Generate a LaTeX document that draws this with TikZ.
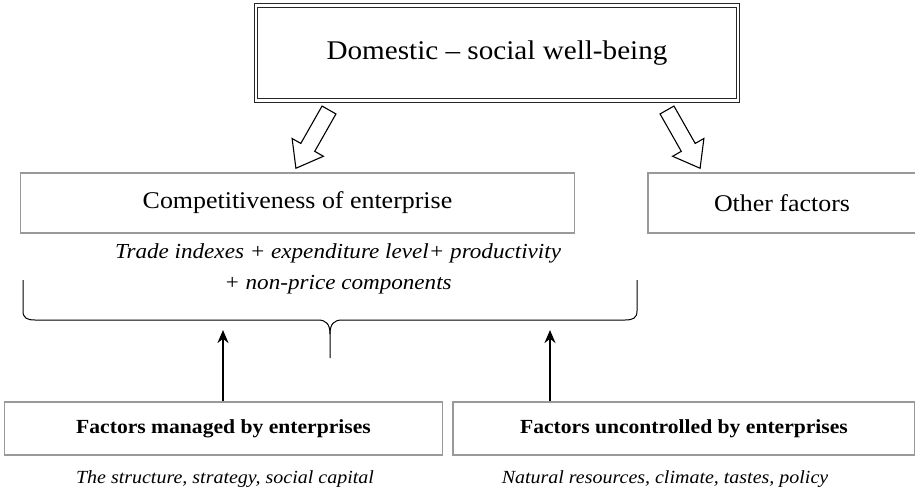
\documentclass[tikz,border=0pt]{standalone}
\usepackage{fontspec}
\setmainfont{Liberation Serif}[FakeStretch=1.08]
\usetikzlibrary{arrows.meta,positioning}

\tikzset{
  box/.style={draw=black!40, line width=1.2pt, inner sep=0pt},
  hollow/.style={draw=black, line width=1.1pt, fill=white, line join=miter},
  up/.style={line width=2.4pt, -{Stealth[length=13pt,width=11pt]}}
}

\begin{document}
\begin{tikzpicture}[x=1pt,y=-1pt]
    \useasboundingbox (0,0) rectangle (915,496);

    % Top box
    \node[draw=black!85, double=white, double distance=2.2pt, line width=1.2pt,
      minimum width=482pt, minimum height=95pt,
      font=\fontsize{27}{32}\selectfont] (wellbeing) at (497,53) {Domestic -- social well-being};

    % Middle boxes
    \node[box, minimum width=554pt, minimum height=60pt,
      font=\fontsize{24}{28}\selectfont] (compet) at (297.5,203) {Competitiveness of enterprise};
    \node[box, minimum width=268pt, minimum height=60pt,
      font=\fontsize{24}{28}\selectfont] (other) at (782,203) {Other factors};
    \node[font=\itshape\fontsize{21.4}{31}\selectfont, align=center] (indexes) at (338,269)
      {Trade indexes + expenditure level+ productivity\\+ non-price components};

    % Hollow arrows
    \foreach \x/\ang in {329/-119.6, 667/-60.4} {
      \begin{scope}[shift={(\x,110)}, rotate=\ang]
        \draw[hollow] (0,-8) -- (43,-8) -- (43,-18) -- (67,0) -- (43,18) -- (43,8) -- (0,8) -- cycle;
      \end{scope}
    }

    % Brace
    \coordinate (tipL) at (223,330);
    \coordinate (tipR) at (550,330);
    \draw[line width=1pt] (23,280) -- (23,311) .. controls (23,318) and (27,320) .. (35,320)
      -- (318,320) .. controls (326,320) and (330,324) .. (330,334) -- (330,358);
    \draw[line width=1pt] (637,280) -- (637,311) .. controls (637,318) and (633,320) .. (625,320)
      -- (342,320) .. controls (334,320) and (330,324) .. (330,334);

    % Bottom boxes
    \node[box, minimum width=438pt, minimum height=53pt,
      font=\bfseries\fontsize{20}{24}\selectfont] (managed) at (223.5,428.5) {Factors managed by enterprises};
    \node[box, minimum width=462pt, minimum height=53pt,
      font=\bfseries\fontsize{20}{24}\selectfont] (uncontrolled) at (684,428.5) {Factors uncontrolled by enterprises};
    \node[font=\itshape\fontsize{18.5}{22}\selectfont] (internal) at (225,479) {The structure, strategy, social capital};
    \node[font=\itshape\fontsize{18.5}{22}\selectfont] (external) at (665,479) {Natural resources, climate, tastes, policy};

    \draw[up] (managed.north -| tipL) -- (tipL);
    \draw[up] (uncontrolled.north -| tipR) -- (tipR);
\end{tikzpicture}
\end{document}
